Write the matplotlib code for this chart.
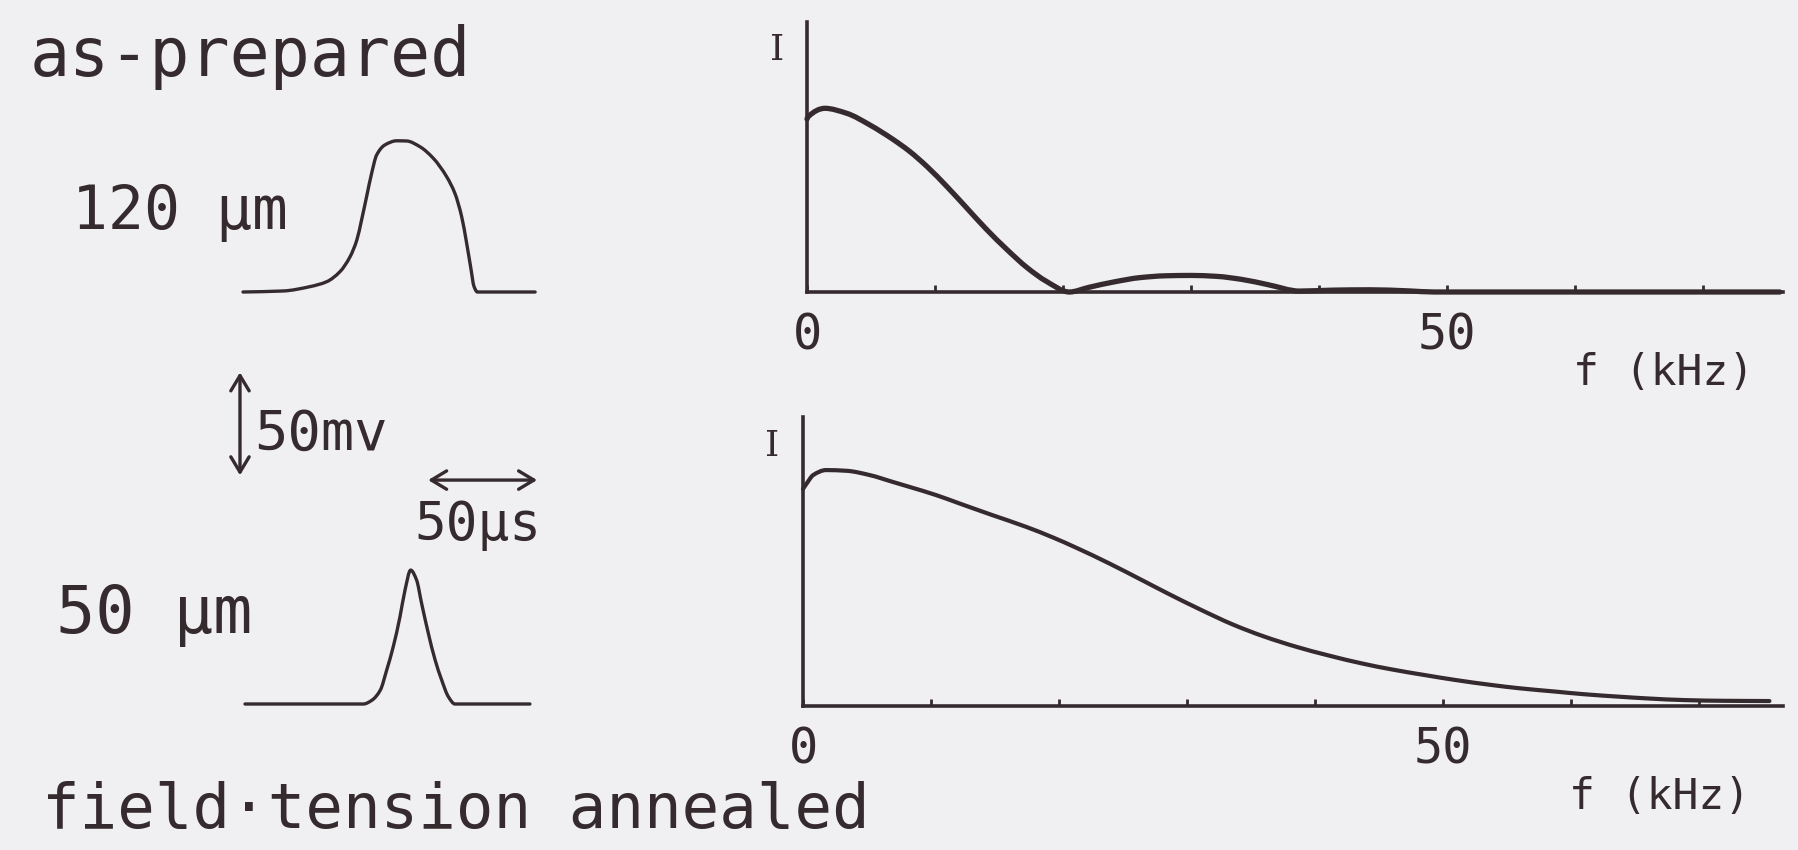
import numpy as np
import matplotlib
matplotlib.use("Agg")
import matplotlib.pyplot as plt
from matplotlib.path import Path
from matplotlib.patches import PathPatch

W, H = 1798, 850
INK = "#352b2e"
PAPER = "#f0eff1"

# output pulses: time (us) vs amplitude (mV)
pulse_120_t = [0, 18.5, 30.7, 38.4, 44.5, 49.1, 52.2, 54.4, 56.7, 59.0, 61.3, 65.1,
               70.5, 75.1, 81.2, 87.3, 93.4, 97.2, 100.3, 102.6, 104.4, 106.0, 107.5, 134]
pulse_120_v = [0, 0.5, 2.6, 5.0, 9.9, 17.1, 25.2, 35.0, 46.3, 57.6, 66.5, 71.4,
               73.4, 73.3, 70.5, 64.9, 56.0, 47.9, 36.6, 23.6, 12.3, 2.6, 0, 0]

pulse_50_t = [0, 54.3, 58.3, 62.1, 65.0, 68.0, 71.1, 73.4, 76.0, 78.7, 81.0,
              84.1, 87.2, 90.2, 93.3, 96.3, 130.7]
pulse_50_v = [0, 0, 1.9, 6.8, 16.5, 27.8, 42.4, 55.3, 65.0, 60.2, 48.9,
              34.3, 21.4, 11.7, 3.5, 0, 0]

# frequency spectra: f (kHz) vs normalised intensity
spec_120_f = [0, 0.1, 1.4, 3.1, 4.9, 6.7, 8.0, 9.4, 10.9, 12.5, 14.0, 15.6, 17.2,
              18.7, 20.5, 22, 24, 26, 28, 30, 32, 34, 36, 38.5, 41, 44, 47, 49, 76]
spec_120_i = [0.94, 0.953, 0.998, 0.971, 0.908, 0.83, 0.765, 0.68, 0.575, 0.455,
              0.342, 0.232, 0.132, 0.058, 0.0, 0.025, 0.055, 0.078, 0.088, 0.09,
              0.085, 0.068, 0.04, 0.005, 0.01, 0.012, 0.006, 0.0, 0.0]

spec_50_f = [0, 0.3, 0.8, 1.8, 3.4, 5.2, 7.0, 8.3, 10.4, 12.2, 14.8, 17.4, 19.5, 21.3,
             23.9, 26.5, 28.5, 31, 33.6, 36, 38.6, 41, 43.7, 46, 48.7, 51, 53.8, 56,
             58.8, 61, 63.9, 66, 68.9, 72, 75.5]
spec_50_i = [0.92, 0.944, 0.979, 1.0, 0.997, 0.979, 0.95, 0.929, 0.894, 0.859, 0.809,
             0.76, 0.715, 0.672, 0.605, 0.533, 0.477, 0.41, 0.345, 0.295, 0.25, 0.215,
             0.18, 0.155, 0.13, 0.11, 0.089, 0.075, 0.061, 0.05, 0.039, 0.032, 0.025,
             0.022, 0.021]

freq_ticks = [0, 10, 20, 30, 40, 50, 60, 70]
freq_ticklabels = ["0", "", "", "", "", "50", "", ""]

scale_mv = 50
scale_us = 50

# pixel scales of the drawing
PX_US = 2.18
PX_MV = 2.06
PX_KHZ = 12.8

plt.rcParams["font.family"] = ["DejaVu Sans Mono"]
fig = plt.figure(figsize=(W / 100, H / 100), dpi=100, facecolor=PAPER)


def px_axes(left, top, right, bottom):
    ax = fig.add_axes([left / W, 1 - bottom / H, (right - left) / W, (bottom - top) / H])
    ax.set_facecolor("none")
    return ax


def label(x, y, s, **kw):
    kw.setdefault("color", INK)
    fig.text(x / W, 1 - y / H, s, **kw)


def smooth_curve(ax, x, y, lw):
    # monotone cubic (Fritsch-Carlson) through the points, drawn as Bezier segments
    x = np.asarray(x, float)
    y = np.asarray(y, float)
    h = np.diff(x)
    d = np.diff(y) / h
    m = np.zeros_like(y)
    m[0], m[-1] = d[0], d[-1]
    for k in range(1, len(x) - 1):
        if d[k - 1] * d[k] > 0:
            w1 = 2 * h[k] + h[k - 1]
            w2 = h[k] + 2 * h[k - 1]
            m[k] = (w1 + w2) / (w1 / d[k - 1] + w2 / d[k])
    verts = [(x[0], y[0])]
    codes = [Path.MOVETO]
    for k in range(len(x) - 1):
        verts += [(x[k] + h[k] / 3, y[k] + m[k] * h[k] / 3),
                  (x[k + 1] - h[k] / 3, y[k + 1] - m[k + 1] * h[k] / 3),
                  (x[k + 1], y[k + 1])]
        codes += [Path.CURVE4] * 3
    ax.add_patch(PathPatch(Path(verts, codes), fill=False, edgecolor=INK, lw=lw,
                           capstyle="round", joinstyle="round", clip_on=False))


# --- pulses -------------------------------------------------------------
ax_p1 = px_axes(243, 292 - 80 * PX_MV, 243 + 134 * PX_US, 292)
smooth_curve(ax_p1, pulse_120_t, pulse_120_v, 2.4)
ax_p1.set_xlim(0, 134)
ax_p1.set_ylim(0, 80)
ax_p1.axis("off")

t0 = -5
ax_p2 = px_axes(245 + t0 * PX_US, 704 - 170 * PX_MV, 245 + 140 * PX_US, 704)
smooth_curve(ax_p2, pulse_50_t, pulse_50_v, 2.4)
ax_p2.set_xlim(t0, 140)
ax_p2.set_ylim(0, 170)
ax_p2.axis("off")

# scale bars
arrow = dict(arrowstyle="<->,head_length=0.5,head_width=0.3", lw=2.4, color=INK,
             mutation_scale=22, shrinkA=0, shrinkB=0)
ax_p2.annotate("", xy=(-2.3, 111 + scale_mv), xytext=(-2.3, 111), arrowprops=arrow)
ax_p2.annotate("", xy=(84 + scale_us, 108.7), xytext=(84, 108.7), arrowprops=arrow)


# --- spectra ------------------------------------------------------------
def spectrum(ax, f, i, lw):
    smooth_curve(ax, f, i, lw)
    for side in ("top", "right"):
        ax.spines[side].set_visible(False)
    for side in ("left", "bottom"):
        ax.spines[side].set_linewidth(2.6)
        ax.spines[side].set_color(INK)
    ax.set_yticks([])
    ax.set_xticks(freq_ticks)
    ax.set_xticklabels(freq_ticklabels)
    ax.tick_params(axis="x", direction="in", length=5, width=2, pad=14,
                   labelsize=35, colors=INK)


ax_s1 = px_axes(807, 22, 1783, 292)
ax_s1.set_xlim(0, (1783 - 807) / PX_KHZ)
ax_s1.set_ylim(0, 1.467)
spectrum(ax_s1, spec_120_f, spec_120_i, 3.8)

ax_s2 = px_axes(803, 417, 1783, 706)
ax_s2.set_xlim(0, (1783 - 803) / PX_KHZ)
ax_s2.set_ylim(0, 1.225)
spectrum(ax_s2, spec_50_f, spec_50_i, 3.0)

# --- text ---------------------------------------------------------------
label(30, 76, "as-prepared", fontsize=48, va="baseline")
label(72, 229, "120 μm", fontsize=43, va="baseline")
label(56, 633, "50 μm", fontsize=47, va="baseline")
label(254, 450, "50mv", fontsize=40, va="baseline")
label(414, 540, "50μs", fontsize=38, va="baseline")
label(42, 828, "field·tension annealed", fontsize=45, va="baseline")

label(777, 50, "I", fontsize=26, family="DejaVu Serif", ha="center", va="center")
label(772, 446, "I", fontsize=26, family="DejaVu Serif", ha="center", va="center")
label(1664, 373, "f (kHz)", fontsize=31, ha="center", va="center")
label(1660, 797, "f (kHz)", fontsize=31, ha="center", va="center")

fig.savefig("out.png", dpi=100, facecolor=PAPER)
